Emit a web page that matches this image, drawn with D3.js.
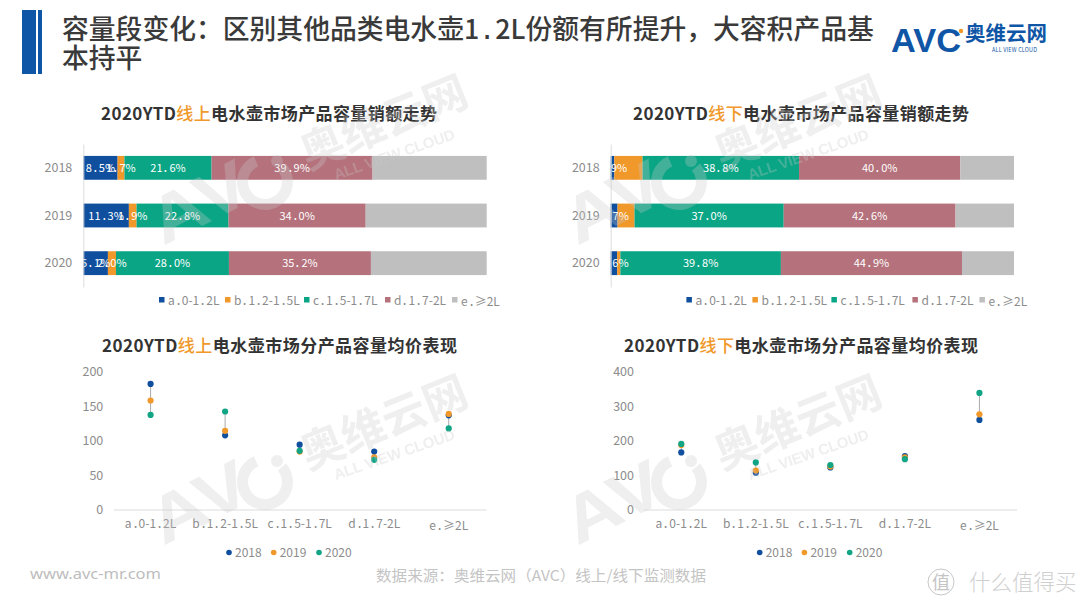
<!DOCTYPE html>
<html><head><meta charset="utf-8">
<script src="https://cdn.jsdelivr.net/npm/d3@7"></script>
<style>
@font-face{font-family:DotWide;src:local("DejaVu Sans Mono");unicode-range:U+2E;}
html,body{margin:0;padding:0;background:#fff;}
svg{display:block;font-family:DotWide,"Noto Sans CJK SC",sans-serif;}
.domain{stroke:#dcdcdc;}
</style></head><body><svg id="c" width="1080" height="608"></svg>
<script>
const years=["2018","2019","2020"];
const segments=["a.0-1.2L","b.1.2-1.5L","c.1.5-1.7L","d.1.7-2L","e.≥2L"];
const segColors=["#0f4f9e","#f0982a","#0aa585","#b5727c","#bfbfbf"];
const yearColors=["#0f4f9e","#f0982a","#12a585"];
const onlineA=[8.5,11.3,6.1], onlineB=[1.7,1.9,2.0], onlineC=[21.6,22.8,28.0], onlineD=[39.9,34.0,35.2], onlineE=[28.3,30.0,28.7];
const offlineA=[0.9,1.7,1.6], offlineB=[7.0,4.2,0.8], offlineC=[38.8,37.0,39.8], offlineD=[40.0,42.6,44.9], offlineE=[13.3,14.5,12.9];
const priceOn2018=[182,107.5,94,84,136.5], priceOn2019=[158,114,84,75.5,138.5], priceOn2020=[137,142,85,72,117.5];
const priceOff2018=[165.5,106.5,122,155,259.5], priceOff2019=[187,113,125,151,276], priceOff2020=[190,136.5,129,146,338];
const ticksOn=[0,50,100,150,200], ticksOff=[0,100,200,300,400];

const svg=d3.select("#c");
const GREY="#8c8c8c";

// header
svg.append("rect").attr("x",22).attr("y",10).attr("width",14).attr("height",64).attr("fill","#0f56a6");
svg.append("rect").attr("x",38).attr("y",10).attr("width",4).attr("height",64).attr("fill","#0f56a6");
const head=svg.append("g").attr("fill","#3a3a3a").attr("font-size",26.8).attr("font-weight",500);
head.append("text").attr("x",62).attr("y",39).text("容量段变化\uFF1A区别其他品类电水壶1.2L份额有所提升\uFF0C大容积产品基");
head.append("text").attr("x",62).attr("y",68).text("本持平");

// logo
const logo=svg.append("g");
logo.append("text").attr("x",891).attr("y",52).attr("font-size",33).attr("font-weight",700).attr("fill","#0f56a6").attr("textLength",70).attr("lengthAdjust","spacingAndGlyphs").style("font-family","Liberation Sans").text("AVC");
logo.append("circle").attr("cx",961).attr("cy",31).attr("r",2.2).attr("fill","#f0982a");
logo.append("text").attr("x",965).attr("y",41).attr("font-size",20.5).attr("font-weight",700).attr("fill","#0f56a6").text("奥维云网");
logo.append("text").attr("x",992).attr("y",52).attr("font-size",5.5).attr("fill","#0f56a6").attr("textLength",45).text("ALL VIEW CLOUD");

function title(x,y,mode,rest,len){
  const t=svg.append("text").attr("x",x).attr("y",y).attr("font-size",17).attr("font-weight",700).attr("fill","#333").attr("textLength",len).attr("lengthAdjust","spacing");
  t.append("tspan").text("2020YTD");
  t.append("tspan").attr("fill","#f0982a").attr("font-weight",500).text(mode);
  t.append("tspan").text(rest);
}
function styleTicks(g,size){
  g.attr("font-family",null).attr("font-size",null);
  g.selectAll("text").attr("font-size",size).attr("fill",GREY);
}
function stacked(id,x0,x1,series,labeled,titleX,mode){
  title(titleX,120,mode,"电水壶市场产品容量销额走势",336);
  const X=d3.scaleLinear().domain([0,100]).range([x0,x1]);
  const Y=d3.scaleBand().domain(years).range([144,287]).paddingInner(.5).paddingOuter(.25);
  const stack=d3.stack().keys(d3.range(5)).value((d,k)=>series[k][d])(d3.range(3));
  const g=svg.append("g");
  stack.forEach((layer,k)=>{
    g.append("g").selectAll("rect").data(layer).join("rect")
      .attr("x",d=>X(d[0])).attr("y",(d,i)=>Y(years[i])).attr("width",d=>X(d[1])-X(d[0])).attr("height",Y.bandwidth()).attr("fill",segColors[k]);
  });
  svg.append("clipPath").attr("id",id).append("rect").attr("x",x0).attr("y",144).attr("width",x1-x0).attr("height",143);
  const lg=svg.append("g").attr("clip-path",`url(#${id})`).attr("font-size",11).attr("fill","#fff").attr("text-anchor","middle");
  stack.forEach((layer,k)=>{
    if(!labeled[k])return;
    lg.append("g").selectAll("text").data(layer).join("text")
      .attr("x",d=>(X(d[0])+X(d[1]))/2).attr("y",(d,i)=>Y(years[i])+Y.bandwidth()/2+4)
      .text((d,i)=>series[k][i].toFixed(1)+"%");
  });
  const ax=svg.append("g").attr("transform",`translate(${x0},0)`).call(d3.axisLeft(Y).tickSize(0).tickPadding(11));
  styleTicks(ax,12.5);
  ax.select(".domain").attr("stroke","#e4e4e4");
  const lx=[159,225,304,385,452];
  const leg=svg.append("g").attr("transform",`translate(${x0-83.3},0)`);
  segments.forEach((s,i)=>{
    leg.append("rect").attr("x",lx[i]).attr("y",297).attr("width",5.5).attr("height",5.5).attr("fill",segColors[i]);
    leg.append("text").attr("x",lx[i]+9).attr("y",i==4?306:305).attr("font-size",12).attr("fill",GREY).text(s);
  });
}
function dots(x0,x1,yMax,ticks,p18,p19,p20,titleX,mode,titleLen){
  title(titleX,352,mode,"电水壶市场分产品容量均价表现",titleLen);
  const X=d3.scaleBand().domain(segments).range([x0,x1]);
  const Y=d3.scaleLinear().domain([0,yMax]).range([509.5,371.5]);
  const ay=svg.append("g").attr("transform",`translate(${x0},0)`).call(d3.axisLeft(Y).tickValues(ticks).tickSize(0).tickPadding(10));
  ay.select(".domain").remove();
  styleTicks(ay,12.5);
  const ax=svg.append("g").attr("transform","translate(0,509.5)").call(d3.axisBottom(X).tickSize(0).tickPadding(10));
  ax.select(".domain").attr("stroke","#dcdcdc");
  styleTicks(ax,12);
  ax.selectAll("text").filter(d=>d===segments[4]).attr("y",12);
  const all=[p18,p19,p20];
  svg.append("g").selectAll("line").data(segments).join("line")
    .attr("x1",d=>X(d)+X.bandwidth()/2).attr("x2",d=>X(d)+X.bandwidth()/2)
    .attr("y1",(d,i)=>Y(d3.min(all,a=>a[i]))).attr("y2",(d,i)=>Y(d3.max(all,a=>a[i])))
    .attr("stroke","#aaa").attr("stroke-width",1);
  all.forEach((arr,k)=>{
    svg.append("g").selectAll("circle").data(arr).join("circle")
      .attr("cx",(d,i)=>X(segments[i])+X.bandwidth()/2).attr("cy",d=>Y(d)).attr("r",3.1).attr("fill",yearColors[k]);
  });
  const lx=[229,273.7,319];
  const leg=svg.append("g").attr("transform",`translate(${x0-113.3},0)`);
  years.forEach((y,i)=>{
    leg.append("circle").attr("cx",lx[i]).attr("cy",552.5).attr("r",2.8).attr("fill",yearColors[i]);
    leg.append("text").attr("x",lx[i]+6).attr("y",557).attr("font-size",12).attr("fill",GREY).text(y);
  });
}
stacked("p1",83.3,486.7,[onlineA,onlineB,onlineC,onlineD,onlineE],[1,1,1,1,0],101,"线上");
stacked("p2",610.7,1014,[offlineA,offlineB,offlineC,offlineD,offlineE],[1,0,1,1,0],633,"线下");
dots(113.3,486,200,ticksOn,priceOn2018,priceOn2019,priceOn2020,102,"线上",355);
dots(644,1016.7,400,ticksOff,priceOff2018,priceOff2019,priceOff2020,624,"线下",354);

// footer
svg.append("text").attr("x",30).attr("y",579).attr("font-size",15).attr("fill","#bdbdbd").style("font-family","Noto Sans").attr("textLength",131).attr("lengthAdjust","spacingAndGlyphs").text("www.avc-mr.com");
svg.append("text").attr("x",376).attr("y",581).attr("font-size",15).attr("fill","#c4c4c4").attr("textLength",330).attr("lengthAdjust","spacingAndGlyphs").text("数据来源\uFF1A奥维云网\uFF08AVC\uFF09线上/线下监测数据");
svg.append("circle").attr("cx",941).attr("cy",582).attr("r",13).attr("fill","none").attr("stroke","#c8c8c8");
svg.append("text").attr("x",941).attr("y",589).attr("text-anchor","middle").attr("font-size",18).attr("fill","#c4c4c4").text("值");
svg.append("text").attr("x",969).attr("y",590).attr("font-size",21.5).attr("fill","#cfcfcf").attr("font-weight",300).text("什么值得买");

// watermarks
const ring=d3.arc().innerRadius(17).outerRadius(28).startAngle(Math.PI*.42).endAngle(Math.PI*2.02);
[[0,-300],[414,-300],[0,0],[414,0]].forEach(([dx,dy])=>{
  const w=svg.append("g").attr("transform",`translate(${dx},${dy})`).attr("fill","#c8c8c8").attr("opacity",.3).attr("font-weight",700).attr("pointer-events","none");
  w.append("text").attr("transform","translate(163,546) rotate(-27) scale(1.2,1)").attr("font-size",66).style("font-family","Liberation Sans").text("AV");
  w.append("path").attr("transform","translate(265,482) rotate(-27)").attr("d",ring());
  w.append("circle").attr("cx",277).attr("cy",461).attr("r",6);
  w.append("text").attr("transform","translate(308,470) rotate(-22)").attr("font-size",44).text("奥维云网");
  w.append("text").attr("transform","translate(336,480) rotate(-19)").attr("font-size",15).attr("textLength",127).style("font-family","Liberation Sans").text("ALL VIEW CLOUD");
});
</script></body></html>
